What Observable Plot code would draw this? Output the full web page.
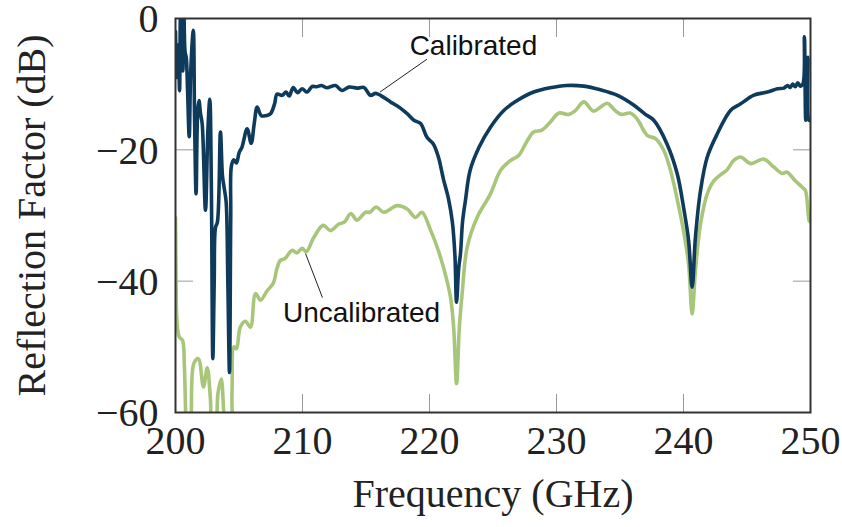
<!DOCTYPE html>
<html>
<head>
<meta charset="utf-8">
<script src="https://cdn.jsdelivr.net/npm/d3@7"></script>
<script src="https://cdn.jsdelivr.net/npm/@observablehq/plot@0.6"></script>
<style>
  html, body { margin: 0; padding: 0; background: #fff; }
  #chart { width: 842px; height: 527px; }
</style>
</head>
<body>
<div id="chart"></div>
<script>
// ---- data ----
const calFreq = [200.00,200.08,200.15,200.25,200.32,200.40,200.50,200.58,200.66,200.75,200.85,200.95,201.08,201.20,201.40,201.50,201.62,201.75,201.85,201.97,202.10,202.36,202.55,202.70,202.82,202.94,203.05,203.15,203.30,203.54,203.70,203.85,203.99,204.12,204.25,204.35,204.40,204.59,204.80,205.00,205.25,205.64,205.96,206.20,206.43,206.75,207.10,207.48,207.80,208.00,208.40,208.70,208.95,209.27,209.60,209.97,210.36,210.76,211.10,211.50,211.90,212.60,213.10,213.65,214.30,214.83,215.35,215.75,216.14,216.93,217.60,218.24,218.77,219.30,219.80,220.30,220.70,221.10,221.50,221.80,222.00,222.13,222.30,222.44,222.60,222.83,223.20,223.90,224.80,225.85,226.90,228.20,229.50,230.80,232.15,233.46,234.80,236.10,237.00,237.66,238.70,239.50,240.00,240.40,240.68,240.94,241.34,241.87,242.65,243.70,244.50,245.50,246.60,247.40,247.90,248.20,248.40,248.60,248.80,249.00,249.20,249.40,249.52,249.62,249.72,249.80,249.88,250.00];
const calDb = [-2,-9,-4,-6.5,-11,1,-3,-8,1,-5,-6,-11,-18,-8,-1.8,-15,-26.7,-14,-12.5,-14.5,-16,-29.2,-17,-12.3,-25,-51.8,-40,-31.8,-31,-17.3,-24,-26,-28,-40,-53.9,-30,-22.5,-21.5,-22,-20.5,-19.5,-16.8,-19,-16,-13.5,-14.8,-14.8,-14.5,-13,-11.5,-11.7,-11.2,-11.8,-10.5,-11.3,-10.7,-11.2,-10.36,-10.4,-10.2,-10.55,-10.2,-10.96,-10.45,-10.6,-10.5,-11.7,-11.4,-11.7,-12.7,-13.5,-14.5,-15.5,-16.0,-18.1,-19.1,-21.1,-24.5,-27.5,-31,-36,-43.2,-38,-35.8,-31,-27.7,-23.1,-19.6,-16.55,-14.0,-12.5,-11.2,-10.55,-10.2,-10.3,-10.86,-11.7,-13.2,-14.6,-15.5,-19.1,-23.6,-28.7,-33.8,-40.9,-33.3,-26.2,-21.1,-17.6,-14.0,-13.0,-11.7,-11.2,-10.7,-10.6,-10.2,-10.5,-10.0,-10.4,-9.8,-10.3,-10.0,-2.8,-15.5,-9,-5.9,-15.5,-15.5];

const uncalFreq = [200.00,200.05,200.10,200.30,200.55,200.70,200.85,201.00,201.20,201.45,201.80,202.20,202.50,202.75,202.90,203.10,203.35,203.60,203.80,203.95,204.30,204.45,204.60,204.80,205.10,205.50,205.90,206.30,206.70,207.20,207.70,208.00,208.27,208.60,209.19,209.55,209.97,210.30,210.90,211.63,212.20,212.86,213.30,213.80,214.30,214.96,215.30,215.80,216.40,217.45,218.24,218.90,219.40,220.10,220.60,221.10,221.65,221.90,222.13,222.35,222.57,222.97,223.75,224.80,225.60,226.40,227.00,227.70,228.20,228.85,229.50,230.20,230.97,231.50,232.15,232.90,233.46,234.00,234.60,235.10,235.80,236.35,237.14,237.80,238.45,239.00,239.50,240.00,240.40,240.68,240.94,241.34,241.87,242.40,243.05,243.40,243.96,244.50,245.30,246.30,247.10,247.77,248.15,248.80,249.35,249.60,249.90,250.00];
const uncalDb = [-30.3,-40,-45.5,-48.5,-49,-53,-62,-64,-62,-52.5,-51.8,-56.1,-53.2,-58,-63,-63,-57,-54.9,-60,-64,-64,-57,-50.0,-50.3,-47.0,-46.1,-47,-41.9,-42.9,-41.5,-40.3,-38,-36.8,-36.6,-35.3,-35.7,-35.0,-35.5,-33.3,-31.5,-32.3,-31.3,-31.0,-29.7,-30.7,-29.5,-29.5,-28.7,-29.5,-28.5,-29,-30.3,-29.5,-32.3,-34.8,-37.9,-42.4,-47,-55.6,-47,-41.9,-34.8,-30.3,-26.7,-23.1,-21.6,-20.9,-18.6,-17.3,-17.0,-15.8,-14.4,-14.6,-14.0,-12.7,-14.1,-13.5,-12.9,-14.0,-14.6,-14.4,-15.3,-17.8,-18.3,-20.1,-23.3,-27.5,-32.3,-37.4,-45.0,-38.4,-31.3,-26.7,-24.7,-23.6,-23.1,-21.6,-21.1,-22.1,-21.4,-22.6,-23.6,-23.4,-24.7,-25.7,-26.2,-30.8,-31];

const xTicks = [200, 210, 220, 230, 240, 250];
const yTicks = [-60, -40, -20, 0];

const labelNames = ["Calibrated", "Uncalibrated"];
const labelFreq = [223.46, 214.65];
const labelDb = [-4.26, -44.85];
const leaderFreqFrom = [216.1, 210.24];
const leaderDbFrom = [-11.2, -35.8];
const leaderFreqTo = [219.8, 211.57];
const leaderDbTo = [-6.2, -42.5];

const xTitle = "Frequency (GHz)";
const yTitle = "Reflection Factor (dB)";

// ---- tables ----
const calibrated = calFreq.map((f, i) => ({f, db: calDb[i]}));
const uncalibrated = uncalFreq.map((f, i) => ({f, db: uncalDb[i]}));
const labels = labelNames.map((name, i) => ({
  name, f: labelFreq[i], db: labelDb[i],
  f1: leaderFreqFrom[i], db1: leaderDbFrom[i], f2: leaderFreqTo[i], db2: leaderDbTo[i]
}));

const serif = "'Liberation Serif', 'Times New Roman', serif";
const blank = () => "";

const chart = Plot.plot({
  width: 842,
  height: 527,
  marginLeft: 175,
  marginRight: 32,
  marginTop: 18,
  marginBottom: 115,
  style: {fontFamily: serif, fontSize: "40px", color: "#222", background: "#fff", overflow: "visible"},
  x: {domain: [200, 250]},
  y: {domain: [-60, 0]},
  marks: [
    // inward ticks on all four sides
    Plot.axisX(xTicks, {anchor: "bottom", tickSize: -18, tickFormat: blank, label: null, stroke: "#999"}),
    Plot.axisX(xTicks, {anchor: "top", tickSize: -18, tickFormat: blank, label: null, stroke: "#999"}),
    Plot.axisY(yTicks, {anchor: "left", tickSize: -18, tickFormat: blank, label: null, stroke: "#999"}),
    Plot.axisY(yTicks, {anchor: "right", tickSize: -18, tickFormat: blank, label: null, stroke: "#999"}),
    // tick labels
    Plot.axisX(xTicks, {anchor: "bottom", tickSize: 0, tickPadding: 13, label: null, fontSize: 40, fill: "#222"}),
    Plot.axisY(yTicks, {anchor: "left", tickSize: 0, tickPadding: 17, label: null, fontSize: 40, fill: "#222", dy: 1}),
    // series
    Plot.line(uncalibrated, {x: "f", y: "db", stroke: "#a8c67a", strokeWidth: 3.6, curve: "catmull-rom", clip: true}),
    Plot.line(calibrated, {x: "f", y: "db", stroke: "#0e3a5c", strokeWidth: 3.6, curve: "catmull-rom", clip: true}),
    // frame
    Plot.frame({stroke: "#333", strokeWidth: 2}),
    // annotations
    Plot.link(labels, {x1: "f1", y1: "db1", x2: "f2", y2: "db2", stroke: "#222", strokeWidth: 1}),
    Plot.text(labels, {x: "f", y: "db", text: "name", fontFamily: "'Liberation Sans', Arial, sans-serif", fontSize: 28, fill: "#111"}),
    // axis titles
    Plot.text([xTitle], {text: d => d, frameAnchor: "bottom", textAnchor: "middle", dy: 94, fontSize: 40, fill: "#222"}),
    Plot.text([yTitle], {text: d => d, frameAnchor: "left", textAnchor: "middle", rotate: -90, dx: -143, fontSize: 40, fill: "#222"})
  ]
});

document.getElementById("chart").appendChild(chart);
</script>
</body>
</html>
